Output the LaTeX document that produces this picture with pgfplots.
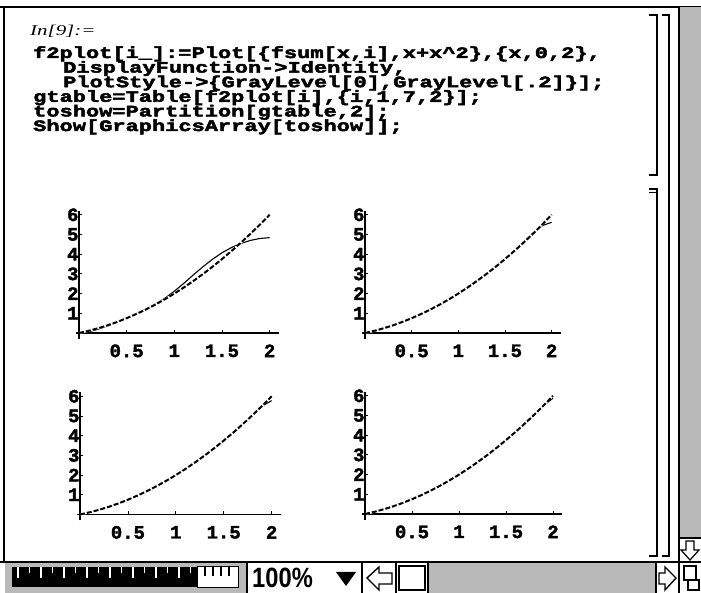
\documentclass[border=0pt]{standalone}
\usepackage{fontspec}
\usepackage{pgfplots}
\usepackage{pgfplotstable}
\pgfplotsset{compat=1.18}
\setmainfont{Liberation Serif}
\newfontfamily\codefont{Liberation Mono}[FakeStretch=1.38,BoldFeatures={FakeBold=3}]
\newfontfamily\tickfont{Liberation Mono}[BoldFeatures={FakeBold=2}]
\newfontfamily\infont{Liberation Serif}[FakeStretch=1.4]
\newfontfamily\barfont{Liberation Sans}[FakeStretch=0.85]

% x, x+x^2, and the partial sums fsum[x,i] for i = 1,3,5,7
\pgfplotstableread{
x    ref   f1    f3    f5    f7
0.0  0.00  0.02  0.00  0.00  0.00
0.1  0.11  0.06  0.10  0.11  0.11
0.2  0.24  0.19  0.23  0.24  0.24
0.3  0.39  0.36  0.38  0.39  0.39
0.4  0.56  0.55  0.56  0.56  0.56
0.5  0.75  0.76  0.76  0.75  0.75
0.6  0.96  0.98  0.97  0.96  0.96
0.7  1.19  1.21  1.19  1.19  1.19
0.8  1.44  1.46  1.43  1.44  1.44
0.9  1.71  1.76  1.70  1.71  1.71
1.0  2.00  2.12  2.01  1.99  2.00
1.1  2.31  2.52  2.33  2.32  2.31
1.2  2.64  2.95  2.66  2.64  2.64
1.3  2.99  3.36  3.00  2.99  2.99
1.4  3.36  3.74  3.36  3.36  3.36
1.5  3.75  4.07  3.75  3.75  3.75
1.6  4.16  4.34  4.16  4.16  4.16
1.7  4.59  4.55  4.60  4.59  4.59
1.8  5.04  4.70  5.05  5.04  5.04
1.9  5.51  4.80  5.45  5.50  5.51
2.0  6.00  4.84  5.62  5.78  5.88
}\fdata

\pgfplotsset{
  mma/.style={
    anchor=origin, clip=false,
    axis lines=middle,
    axis line style={-,line width=1.6pt},
    every inner x axis line/.append style={-},
    every inner y axis line/.append style={-},
    x=95bp, y=19.7bp,
    xmin=-0.03, xmax=2.1, ymin=-0.3, ymax=6.2,
    xtick={0.5,1,1.5,2}, xticklabels={0.5,1,1.5,2},
    ytick={1,2,3,4,5,6}, yticklabels={1,2,3,4,5,6},
    tick align=inside, major tick length=3bp,
    tick style={black,line width=0.8pt},
    tick label style={font=\tickfont\bfseries\fontsize{19}{19}\selectfont},
    xticklabel style={yshift=-8bp},
    yticklabel style={xshift=3bp},
  },
  fsum/.style={black,line width=1.1pt},
  refgap/.style={white,line width=2pt},
  ref/.style={black,line width=2pt,dash pattern=on 5bp off 2bp},
}

\begin{document}
\begin{tikzpicture}[x=1bp,y=1bp]
\path[use as bounding box] (0,0) rectangle (701,593);
\fill[white] (0,0) rectangle (701,593);

% notebook window, y measured downwards from the top
\begin{scope}[shift={(0,593)},yscale=-1]
  \draw[line width=1.5pt] (0,7) -- (701,7);
  \draw[line width=1.5pt] (4,7) -- (4,562);
  % scroll bar
  \fill[gray!55] (680,7) rectangle (701,538);
  \draw[line width=1.5pt] (679,7) -- (679,593);
  \draw[line width=1.2pt] (679,538) -- (701,538);
  \draw[line width=1.2pt] (690,560) -- (681,550) -- (686,550) -- (686,541)
        -- (694,541) -- (694,550) -- (699,550) -- cycle;
  % cell brackets
  \draw[line width=1.4pt] (649,15) -- (657,15) -- (657,175) -- (649,175);
  \draw[line width=1.4pt] (649,189) -- (657,189) -- (657,556) -- (649,556);
  \draw[line width=1.4pt] (649,192.5) -- (657,192.5);
  \draw[line width=1.4pt] (662,15) -- (669,15) -- (669,556) -- (662,556);
  % input cell
  \node[anchor=base west,inner sep=0,font=\infont\itshape\fontsize{15}{15}\selectfont]
    at (30,36) {In[9]:=};
  \begin{scope}[every node/.style={anchor=base west,inner sep=0,
      font=\codefont\bfseries\fontsize{16}{16}\selectfont}]
    \node at (33,58) {f2plot[i\_]:=Plot[\{fsum[x,i],x+x\textasciicircum2\},\{x,0,2\},};
    \node at (63,72.6) {DisplayFunction->Identity,};
    \node at (63,87.2) {PlotStyle->\{GrayLevel[0],GrayLevel[.2]\}];};
    \node at (33,101.8) {gtable=Table[f2plot[i],\{i,1,7,2\}];};
    \node at (33,116.4) {toshow=Partition[gtable,2];};
    \node at (33,131) {Show[GraphicsArray[toshow]];};
  \end{scope}
  % bottom bar
  \draw[line width=1.5pt] (0,562) -- (701,562);
  \fill[gray!55] (5,563) rectangle (246,593);
  \fill[black] (12,567) rectangle (197,587);
  \fill[white] (197,567) rectangle (238,587);
  \draw[line width=1pt] (197,567) rectangle (238,587);
  \foreach \t in {18,41,64,87,110,133,156,179}
    \draw[white,line width=1.2pt] (\t,567) -- (\t,578);
  \foreach \t in {29.5,52.5,75.5,98.5,121.5,144.5,167.5,190.5}
    \draw[white,line width=1.2pt] (\t,567) -- (\t,573);
  \foreach \t in {205,213,221,229}
    \draw[line width=1.2pt] (\t,567) -- (\t,576);
  \draw[line width=1.5pt] (247,562) -- (247,593);
  \node[anchor=base west,inner sep=0,font=\barfont\bfseries\fontsize{28}{28}\selectfont]
    at (252,588) {100\%};
  \fill (336,572) -- (356,572) -- (346,586) -- cycle;
  \draw[line width=1.5pt] (362,562) -- (362,593);
  \draw[line width=1.4pt] (367,578) -- (379,567) -- (379,573) -- (392,573)
        -- (392,584) -- (379,584) -- (379,590) -- cycle;
  \draw[line width=1.5pt] (396,562) -- (396,593);
  \draw[line width=1.2pt] (399,566) rectangle (425,590);
  \fill[gray!55] (428,563) rectangle (656,593);
  \draw[line width=1.5pt] (428,562) -- (428,593);
  \draw[line width=1.5pt] (656,562) -- (656,593);
  \draw[line width=1.4pt] (676,578) -- (665,567) -- (665,573) -- (659,573)
        -- (659,584) -- (665,584) -- (665,590) -- cycle;
  \draw[line width=1.2pt] (684,566) rectangle (696,580);
  \draw[line width=1.2pt] (688,580) rectangle (699,590);
\end{scope}

% GraphicsArray: fsum[x,i] for i = 1,3 (top) and 5,7 (bottom) against x+x^2
\begin{axis}[mma, at={(79bp,260bp)}, x=95.3bp]
  \addplot[fsum] table[x=x,y=f1] {\fdata};
  \addplot[refgap] table[x=x,y=ref] {\fdata};
  \addplot[ref] table[x=x,y=ref] {\fdata};
\end{axis}
\begin{axis}[mma, at={(365bp,260bp)}, x=93.3bp]
  \addplot[fsum] table[x=x,y=f3] {\fdata};
  \addplot[refgap] table[x=x,y=ref] {\fdata};
  \addplot[ref] table[x=x,y=ref] {\fdata};
\end{axis}
\begin{axis}[mma, at={(80bp,78.5bp)}, x=95.8bp]
  \addplot[fsum] table[x=x,y=f5] {\fdata};
  \addplot[refgap] table[x=x,y=ref] {\fdata};
  \addplot[ref] table[x=x,y=ref] {\fdata};
\end{axis}
\begin{axis}[mma, at={(365bp,79bp)}, x=94bp]
  \addplot[fsum] table[x=x,y=f7] {\fdata};
  \addplot[refgap] table[x=x,y=ref] {\fdata};
  \addplot[ref] table[x=x,y=ref] {\fdata};
\end{axis}
\end{tikzpicture}
\end{document}
